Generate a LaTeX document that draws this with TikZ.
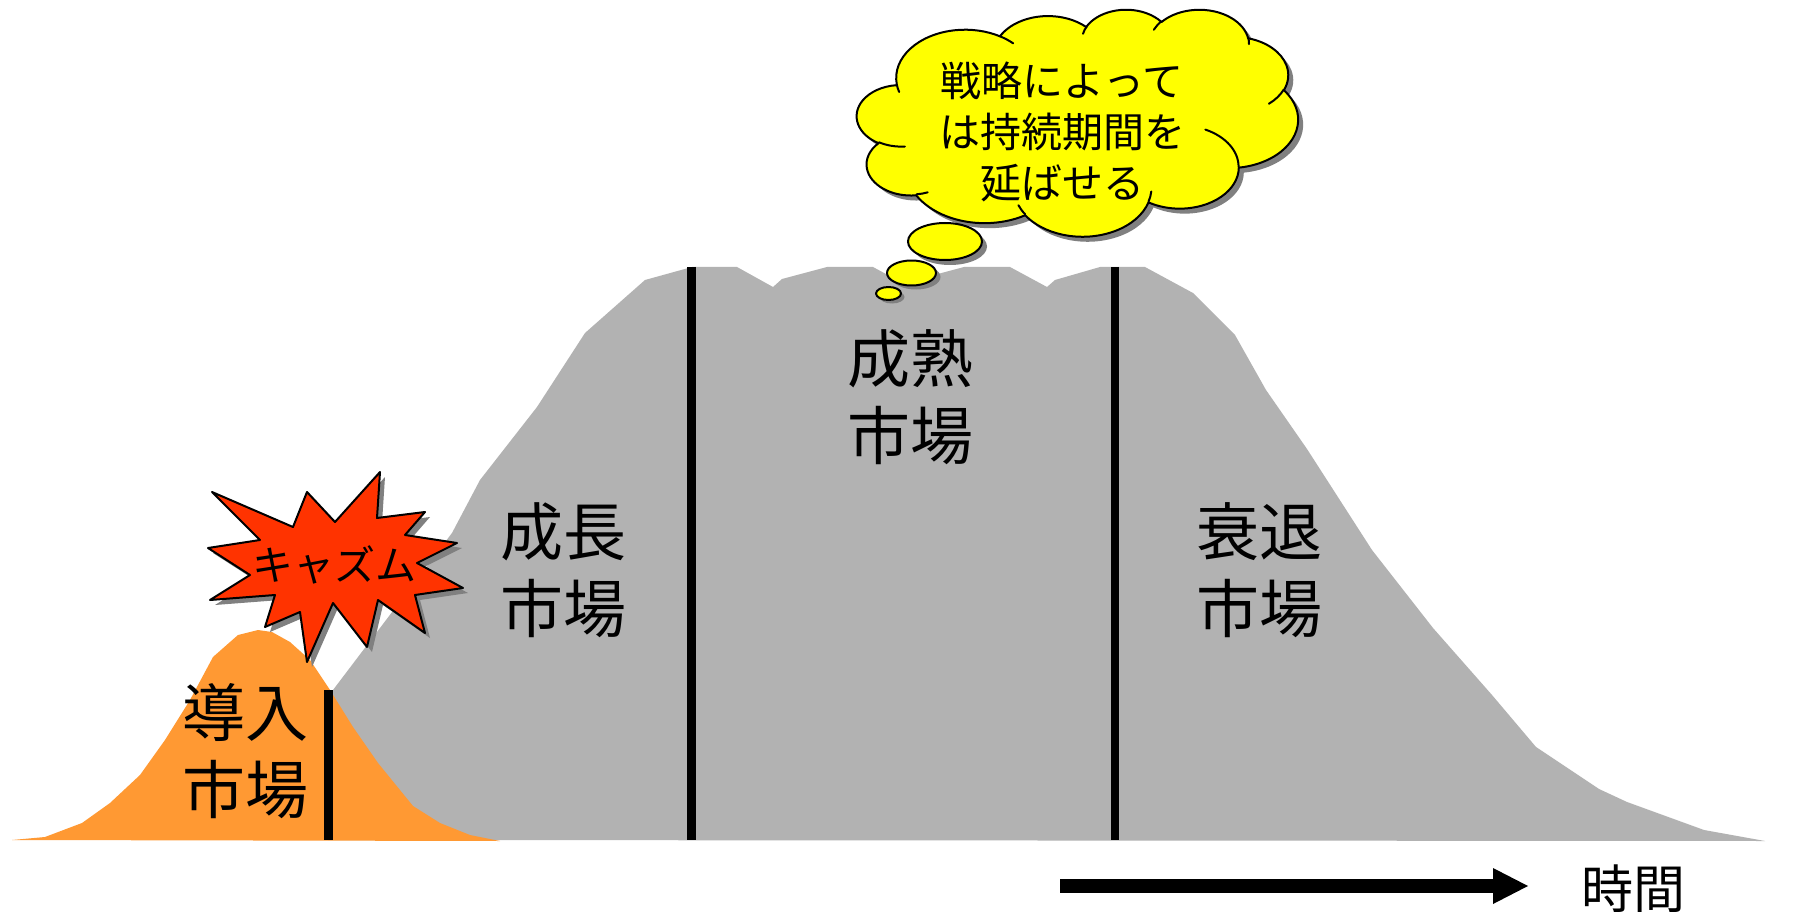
\documentclass[tikz,border=0pt]{standalone}
\usepackage{fontspec}
\newfontfamily\jp{Noto Sans CJK JP}
\usetikzlibrary{arrows.meta}
\definecolor{mgray}{HTML}{B2B2B2}
\definecolor{morange}{HTML}{FF9933}
\definecolor{mred}{HTML}{FF3300}
\definecolor{myellow}{HTML}{FFFF00}
\definecolor{mshadow}{HTML}{808080}
\begin{document}
\begin{tikzpicture}[x=1pt,y=1pt,yscale=-1,
  biglabel/.style={font=\jp\fontsize{63}{77}\selectfont, align=center, inner sep=0pt},
  divider/.style={line width=8.5pt},
  outl/.style={draw=black, line width=2pt, line join=round},
  starpath/.style={insert path={(212,492) -- (293,527) -- (307,492) -- (335,522) -- (380,472) -- (377,518) -- (425,512) -- (405,535) -- (457,543) -- (417,563) -- (463,588) -- (415,595) -- (425,633) -- (378,600) -- (367,647) -- (333,603) -- (307,662) -- (300,612) -- (265,627) -- (275,595) -- (210,600) -- (250,575) -- (208,548) -- (260,540) -- cycle}},
  cloudpath/.style={insert path={(390,1437)
    arc[start angle=-187.75, end angle=-59.64, x radius=675.3, y radius=919]
    arc[start angle=-152.01, end angle=-45.45, x radius=533.3, y radius=726.7]
    arc[start angle=-153.49, end angle=-37.34, x radius=436.5, y radius=594.5]
    arc[start angle=-139.72, end angle=-10.22, x radius=485.7, y radius=659.5]
    arc[start angle=-74.77, end angle=23.21, x radius=533.3, y radius=727.3]
    arc[start angle=-37.51, end angle=81.86, x radius=677.5, y radius=922]
    arc[start angle=0.46, end angle=121.98, x radius=578.5, y radius=786.7]
    arc[start angle=16.84, end angle=146.24, x radius=675.2, y radius=921.5]
    arc[start angle=58.98, end angle=150.20, x radius=772, y radius=1054.3]
    arc[start angle=83.31, end angle=223.11, x radius=436, y radius=591.8]
    arc[start angle=120.36, end angle=264.11, x radius=434.5, y radius=594.5]
    -- cycle}}]
\useasboundingbox (0,0) rectangle (1797,912);
\fill[white] (0,0) rectangle (1797,912);

% gray mountain
\fill[mgray] (328,840) -- (328,692) -- (333,690) -- (452,533) -- (480,480) -- (537,407) -- (585,333) -- (645,280) -- (692,267) -- (737,267) -- (773,287) -- (782,279) -- (827,267) -- (873,267) -- (910,287) -- (919,279) -- (964,267) -- (1010,267) -- (1047,287) -- (1055,280) -- (1100,267) -- (1145,267) -- (1193,293) -- (1235,335) -- (1266,390) -- (1307,449) -- (1372,550) -- (1433,628) -- (1492,695) -- (1536,747) -- (1599,789) -- (1627,802) -- (1704,830) -- (1765,841) -- cycle;

% orange hill
\fill[morange] (12,840) -- (45,837) -- (82,823) -- (110,803) -- (140,775) -- (165,740) -- (190,700) -- (213,657) -- (238,635) -- (258,630) -- (272,632) -- (290,642) -- (310,660) -- (330,690) -- (353,727) -- (378,763) -- (413,806) -- (440,823) -- (470,835) -- (500,841) -- cycle;

% dividers
\coordinate (d1t) at (328.5,690); \coordinate (d1b) at (328.5,840);
\coordinate (d2t) at (691.5,267); \coordinate (d2b) at (691.5,840);
\coordinate (d3t) at (1115,267); \coordinate (d3b) at (1115,840);
\draw[divider] (d1t) -- (d1b);
\draw[divider] (d2t) -- (d2b);
\draw[divider] (d3t) -- (d3b);

% labels
\node[biglabel] (intro) at (245,751) {導入\\市場};
\node[biglabel] (growth) at (563,570) {成長\\市場};
\node[biglabel] (mature) at (910,397) {成熟\\市場};
\node[biglabel] (decline) at (1259,570) {衰退\\市場};

% chasm star
\fill[mshadow] [shift={(5,5)}] [starpath];
\draw[outl, fill=mred] [starpath];
\node[font=\jp\fontsize{41}{46}\selectfont, inner sep=0pt] (chasm) at (334,565) {キャズム};

% cloud
\begin{scope}[shift={(862,14)}, xscale=441/4320, yscale=227/4320]
  \fill[mshadow] [cloudpath];
\end{scope}
\begin{scope}[shift={(857,9)}, xscale=441/4320, yscale=227/4320]
  \draw[outl, fill=myellow] [cloudpath];
  \draw[black, line width=2pt, line cap=round]
    (469.3,2617.7) arc[start angle=85.54, end angle=120.36, x radius=434.5, y radius=594.5]
    (692.8,3489.9) arc[start angle=68.23, end angle=83.31, x radius=436, y radius=591.8]
    (1647.8,3909) arc[start angle=146.24, end angle=158.47, x radius=675.2, y radius=921.5]
    (2882.7,3475.1) arc[start angle=4.74, end angle=16.84, x radius=675.2, y radius=921.5]
    (3412.9,2295.4) arc[start angle=-64.02, end angle=0.46, x radius=578.5, y radius=786.7]
    (4179.8,1535.4) arc[start angle=23.21, end angle=49.64, x radius=533.3, y radius=727.3]
    (3832.4,542.6) arc[start angle=-10.22, end angle=0.82, x radius=485.7, y radius=659.5]
    (2907.8,395.2) arc[start angle=-156.29, end angle=-139.72, x radius=485.7, y radius=659.5]
    (2214.1,472) arc[start angle=-167.72, end angle=-153.49, x radius=436.5, y radius=594.5]
    (1400,519.2) arc[start angle=-59.64, end angle=-45.75, x radius=675.3, y radius=919]
    (412.7,1578.9) arc[start angle=163.19, end angle=172.24, x radius=675.3, y radius=919];
\end{scope}
\node[font=\jp\fontsize{41}{51}\selectfont, align=center, inner sep=0pt] (thought) at (1062,132) {戦略によって\\は持続期間を\\延ばせる};

% thought bubbles
\fill[mshadow] (950,246.5) ellipse[x radius=37, y radius=18.5];
\draw[outl, fill=myellow] (945,241.5) ellipse[x radius=37, y radius=18.5];
\fill[mshadow] (916,277) ellipse[x radius=24.5, y radius=12.5];
\draw[outl, fill=myellow] (911.5,273) ellipse[x radius=24.5, y radius=12.5];
\fill[mshadow] (892,297) ellipse[x radius=12.5, y radius=6.5];
\draw[outl, fill=myellow] (888.5,293.5) ellipse[x radius=12.5, y radius=6.5];

% time arrow
\coordinate (tstart) at (1060,886);
\coordinate (tend) at (1528,886);
\draw[line width=14pt, -{Triangle[length=35pt,width=36pt,line width=0pt]}] (tstart) -- (tend);
\node[font=\jp\fontsize{52}{60}\selectfont, inner sep=0pt] (time) at (1633,889) {時間};
\end{tikzpicture}
\end{document}
